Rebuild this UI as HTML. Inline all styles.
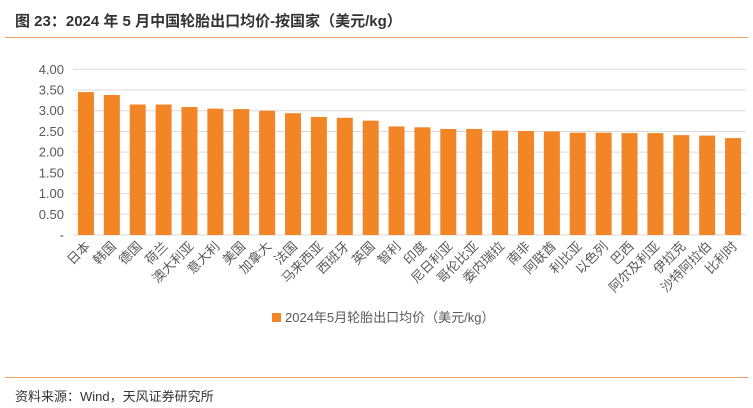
<!DOCTYPE html>
<html><head><meta charset="utf-8"><style>
body{margin:0;width:753px;height:408px;background:#fff;font-family:"Liberation Sans","Noto Sans CJK SC",sans-serif;overflow:hidden;position:relative}
.title{position:absolute;left:15px;top:10px;font-size:15px;font-weight:bold;color:#333}
.tline{position:absolute;left:5px;top:37px;width:743px;height:1px;background:#f0a060}
.bline{position:absolute;left:5px;top:377px;width:743px;height:1px;background:#f0a060}
.src{position:absolute;left:15px;top:386px;font-size:13px;color:#333}
</style></head><body>
<div class="title">图 23：2024 年 5 月中国轮胎出口均价-按国家（美元/kg）</div>
<div class="tline"></div>
<svg id="chart" width="753" height="408" style="position:absolute;left:0;top:0"></svg>
<div class="bline"></div>
<div class="src">资料来源：Wind，天风证券研究所</div>
<script>
const categories=["日本","韩国","德国","荷兰","澳大利亚","意大利","美国","加拿大","法国","马来西亚","西班牙","英国","智利","印度","尼日利亚","哥伦比亚","委内瑞拉","南非","阿联酋","利比亚","以色列","巴西","阿尔及利亚","伊拉克","沙特阿拉伯","比利时"];
const values=[3.45,3.38,3.15,3.15,3.09,3.05,3.04,3.00,2.94,2.85,2.83,2.76,2.62,2.60,2.56,2.56,2.52,2.51,2.50,2.47,2.47,2.46,2.46,2.41,2.40,2.34];
const yTicks=[0,0.5,1,1.5,2,2.5,3,3.5,4];
const yTickLabels=["-","0.50","1.00","1.50","2.00","2.50","3.00","3.50","4.00"];
const NS="http://www.w3.org/2000/svg";
const svg=document.getElementById('chart');
const x0=73,x1=746,y0=235,yTop=69.3,yMax=4;
const step=(x1-x0)/categories.length;
const y=v=>y0-(v/yMax)*(y0-yTop);
const xc=i=>x0+step*(i+0.5);
function mk(t,a){const e=document.createElementNS(NS,t);for(const k in a)e.setAttribute(k,a[k]);svg.appendChild(e);return e;}
yTicks.forEach((t,i)=>{
  const l=mk('line',{x1:x0,x2:x1,y1:y(t),y2:y(t),stroke:'#d9d9d9','stroke-width':1});
  
  
  const tx=mk('text',{x:64,y:y(t)+4.5,'text-anchor':'end','font-size':13,fill:'#595959'});
  tx.textContent=yTickLabels[i];
  
  
});
categories.forEach((c,i)=>{
  const w=16;
  const r=mk('rect',{x:xc(i)-w/2,y:y(values[i]),width:w,height:y0-y(values[i]),fill:'#f28526'});
  
  
  const tx=mk('text',{x:xc(i)+5,y:y0+12,'text-anchor':'end','font-size':13,fill:'#595959',transform:`rotate(-45 ${xc(i)+5} ${y0+12})`});
  tx.textContent=c;
  
  
});
const lg=mk('rect',{x:272,y:313,width:9,height:9,fill:'#f28526'});


const lt=mk('text',{x:285,y:322,'font-size':13,fill:'#595959'});
lt.textContent='2024年5月轮胎出口均价（美元/kg）';


</script>
</body></html>
